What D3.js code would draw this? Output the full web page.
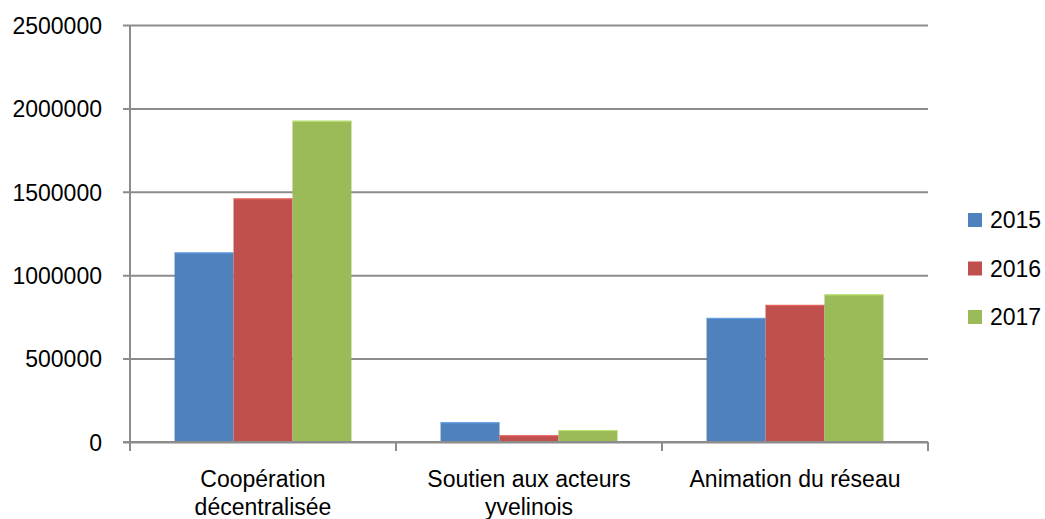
<!DOCTYPE html>
<html>
<head>
<meta charset="utf-8">
<script src="https://cdn.jsdelivr.net/npm/d3@7"></script>
<style>
  html, body { margin: 0; padding: 0; background: #fff; }
  svg { display: block; }
  text { font-family: "Liberation Sans", Arial, sans-serif; fill: #000; }
</style>
</head>
<body>
<svg id="chart" width="1045" height="519"></svg>
<script>
// Budget par axe d'action, 2015–2017
const categories = ["Coopération décentralisée", "Soutien aux acteurs yvelinois", "Animation du réseau"];
const years = ["2015", "2016", "2017"];
const values2015 = [1136000, 118000, 744000];
const values2016 = [1460000, 40000, 822000];
const values2017 = [1926000, 72000, 885000];
const yTicks = [0, 500000, 1000000, 1500000, 2000000, 2500000];
const colors = ["#4F81BD", "#C0504D", "#9BBB59"];

const seriesValues = [values2015, values2016, values2017];
const rows = categories.map((c, i) => ({
  category: c,
  values: years.map((y, j) => ({ year: y, value: seriesValues[j][i], color: colors[j] }))
}));

const svg = d3.select("#chart");
const plot = { left: 130, right: 928, top: 25, bottom: 442 };
const fontSize = 23;
const gridColor = "#8C8C8C";

const y = d3.scaleLinear().domain([0, 2500000]).range([plot.bottom, plot.top]);
const pad = 0.335;
const x0 = d3.scaleBand().domain(categories).range([plot.left, plot.right])
  .paddingInner(pad).paddingOuter(pad / 2);
const x1 = d3.scaleBand().domain(years).range([0, x0.bandwidth()]);

// Horizontal gridlines with left tick marks and labels
const yAxis = d3.axisLeft(y).tickValues(yTicks).tickFormat(d3.format("d"))
  .tickSize(-(plot.right - plot.left)).tickPadding(0);
const gy = svg.append("g").attr("transform", `translate(${plot.left},0)`).call(yAxis);
gy.select(".domain").remove();
gy.selectAll(".tick line")
  .attr("x1", -7)
  .attr("stroke", gridColor).attr("stroke-width", 2);
gy.selectAll(".tick text")
  .attr("x", -28).attr("dy", "0.36em")
  .style("font-size", fontSize + "px")
  .style("font-family", "'Liberation Sans', Arial, sans-serif")
  .attr("fill", "#000");

// Bars
const groups = svg.append("g").selectAll("g").data(rows).join("g")
  .attr("transform", d => `translate(${x0(d.category)},0)`);
groups.selectAll("rect").data(d => d.values).join("rect")
  .attr("x", d => x1(d.year))
  .attr("width", x1.bandwidth())
  .attr("y", d => y(d.value))
  .attr("height", d => y(0) - y(d.value))
  .attr("fill", d => d.color);
// Light top edge on each bar
groups.selectAll("line.top").data(d => d.values).join("line")
  .attr("class", "top")
  .attr("x1", d => x1(d.year)).attr("x2", d => x1(d.year) + x1.bandwidth())
  .attr("y1", d => y(d.value) + 0.5).attr("y2", d => y(d.value) + 0.5)
  .attr("stroke", d => d3.color(d.color).brighter(0.6)).attr("stroke-width", 1);

// Vertical axis line
svg.append("line")
  .attr("x1", plot.left).attr("x2", plot.left)
  .attr("y1", plot.top).attr("y2", plot.bottom + 9)
  .attr("stroke", gridColor).attr("stroke-width", 2);

// Category axis: baseline plus tick marks on band boundaries
const step = x0.step();
const boundaries = d3.range(categories.length + 1).map(i => plot.left + i * step);
svg.append("line")
  .attr("x1", plot.left - 7).attr("x2", plot.right)
  .attr("y1", y(0)).attr("y2", y(0))
  .attr("stroke", gridColor).attr("stroke-width", 2);
svg.append("g").selectAll("line").data(boundaries).join("line")
  .attr("x1", d => d).attr("x2", d => d)
  .attr("y1", y(0)).attr("y2", y(0) + 9)
  .attr("stroke", gridColor).attr("stroke-width", 2);

// Category labels, wrapped to the band width
const labelG = svg.append("g");
rows.forEach(r => {
  const cx = x0(r.category) + x0.bandwidth() / 2;
  const t = labelG.append("text")
    .attr("text-anchor", "middle")
    .style("font-size", fontSize + "px");
  const words = r.category.split(" ");
  let lines = [], line = [];
  const probe = t.append("tspan");
  words.forEach(w => {
    const attempt = line.concat(w).join(" ");
    probe.text(attempt);
    if (probe.node().getComputedTextLength() > 240 && line.length) {
      lines.push(line.join(" "));
      line = [w];
    } else {
      line.push(w);
    }
  });
  lines.push(line.join(" "));
  probe.remove();
  lines.forEach((l, i) => {
    t.append("tspan").attr("x", cx).attr("y", 487 + i * 28).text(l);
  });
});

// Legend
const legend = svg.append("g").selectAll("g").data(years).join("g")
  .attr("transform", (d, i) => `translate(968,${220 + i * 48.5})`);
legend.append("rect")
  .attr("x", 0).attr("y", -7).attr("width", 14).attr("height", 14)
  .attr("fill", (d, i) => colors[i]);
legend.append("text")
  .attr("x", 22).attr("dy", "0.36em")
  .style("font-size", fontSize + "px")
  .text(d => d);
</script>
</body>
</html>
